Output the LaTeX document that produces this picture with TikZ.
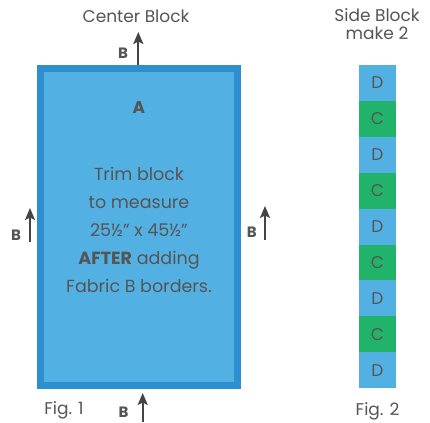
\documentclass[tikz,border=0pt]{standalone}
\usepackage{fontspec}
\setmainfont{Poppins}
\usetikzlibrary{arrows.meta}
\definecolor{lblue}{HTML}{52B0E3}
\definecolor{dblue}{HTML}{2E8FCF}
\definecolor{cgreen}{HTML}{22B36B}
\definecolor{txtgray}{HTML}{555555}
\definecolor{arrgray}{HTML}{444444}
\tikzset{
  lbl/.style={text=txtgray, inner sep=0, anchor=base, font=\fontsize{17}{20}\selectfont},
  blbl/.style={text=txtgray, inner sep=0, anchor=base, font=\fontsize{15}{17}\selectfont\bfseries},
  body/.style={text=txtgray, inner sep=0, anchor=base, font=\fontsize{17.5}{20}\selectfont},
  uparrow/.style={draw=arrgray, line width=2, -{Stealth[length=12,width=10,inset=2.5]}},
  seg/.style={minimum width=37, minimum height=35.9, inner sep=0, outer sep=0, draw=none,
              text=txtgray, font=\fontsize{17}{18}\selectfont},
}
\begin{document}
\begin{tikzpicture}[x=1pt,y=-1pt]
\useasboundingbox (0,0) rectangle (430,422);
\fill[white] (0,0) rectangle (430,422);

% center block
\node[draw=dblue, line width=7, fill=lblue, minimum width=197, minimum height=317, inner sep=0] (cb) at (139,227) {};

% titles
\node[lbl] (ctitle) at (136,22.5) {Center Block};
\node[lbl] (stitle1) at (377,21.7) {Side Block};
\node[lbl] (stitle2) at (377,40) {make 2};

% inside text
\node[body, font=\fontsize{17}{20}\selectfont\bfseries] (A) at (139,114) {A};
\node[body] (l1) at (139,180) {Trim block};
\node[body] (l2) at (139,208) {to measure};
\node[body] (l3) at (139,236) {25½" x 45½"};
\node[body] (l4) at (139,264) {\textbf{AFTER} adding};
\node[body] (l5) at (139,292) {Fabric B borders.};

% side block
\foreach \i/\c/\t in {1/lblue/D,2/cgreen/C,3/lblue/D,4/cgreen/C,5/lblue/D,6/cgreen/C,7/lblue/D,8/cgreen/C,9/lblue/D}{
  \node[seg, fill=\c] (s\i) at (377.5, {65+35.9*(\i-0.5)}) {\t};
}

% figure labels
\node[lbl] (fig1) at (64,414) {Fig. 1};
\node[lbl] (fig2) at (377.5,415) {Fig. 2};

% arrows and B labels
\coordinate (tTip) at (138.3,32);
\draw[uparrow] (cb.north -| tTip) -- (tTip);
\node[blbl] (Btop) at (123,59) {B};

\coordinate (lBot) at (30,242);
\coordinate (lTip) at (30,208);
\draw[uparrow] (lBot) -- (lTip);
\node[blbl] (Bleft) at (16,240) {B};

\coordinate (rBot) at (265,239.5);
\coordinate (rTip) at (265,206);
\draw[uparrow] (rBot) -- (rTip);
\node[blbl] (Bright) at (251.7,237) {B};

\coordinate (bBot) at (142.7,422);
\coordinate (bTip) at (142.7,393);
\draw[uparrow] (bBot) -- (bTip);
\node[blbl] (Bbot) at (123.5,417) {B};
\end{tikzpicture}
\end{document}
